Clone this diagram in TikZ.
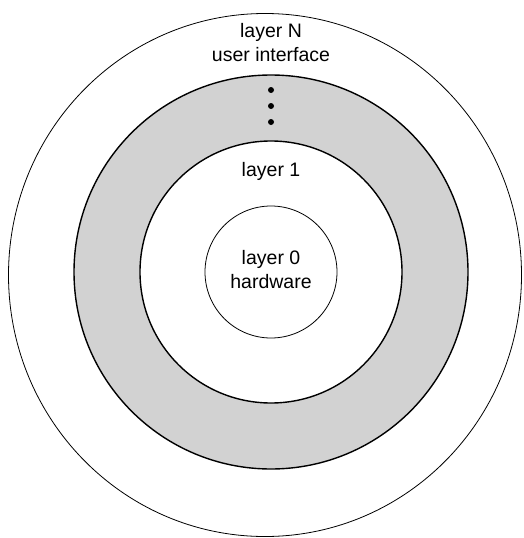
\documentclass[tikz,border=0pt]{standalone}
\usepackage{fontspec}
\setmainfont{Liberation Sans}
\begin{document}
\begin{tikzpicture}[x=1pt,y=-1pt,
  lbl/.style={font=\fontsize{19.5}{24}\selectfont, align=center, inner sep=0pt},
  thinline/.style={line width=0.8pt},
  ringline/.style={line width=1.4pt},
  dotmark/.style={circle, fill=black, inner sep=0pt, minimum size=6pt}]
\useasboundingbox (0,0) rectangle (523,538);
\clip (0,0) rectangle (523,538);
\coordinate (c) at (271,272);
\draw[thinline] (265,275) ellipse[x radius=256.5, y radius=261.5];
\draw[ringline, fill=gray!35] (c) circle[radius=197];
\draw[ringline, fill=white] (c) circle[radius=131];
\draw[thinline] (c) circle[radius=66];
\node[lbl] (ln) at (271,43) {layer N\\user interface};
\node[dotmark] (d1) at (271,90) {};
\node[dotmark] (d2) at (271,106) {};
\node[dotmark] (d3) at (271,122) {};
\node[lbl] (l1) at (271,171) {layer 1};
\node[lbl] (l0) at (271,270) {layer 0\\hardware};
\end{tikzpicture}
\end{document}
